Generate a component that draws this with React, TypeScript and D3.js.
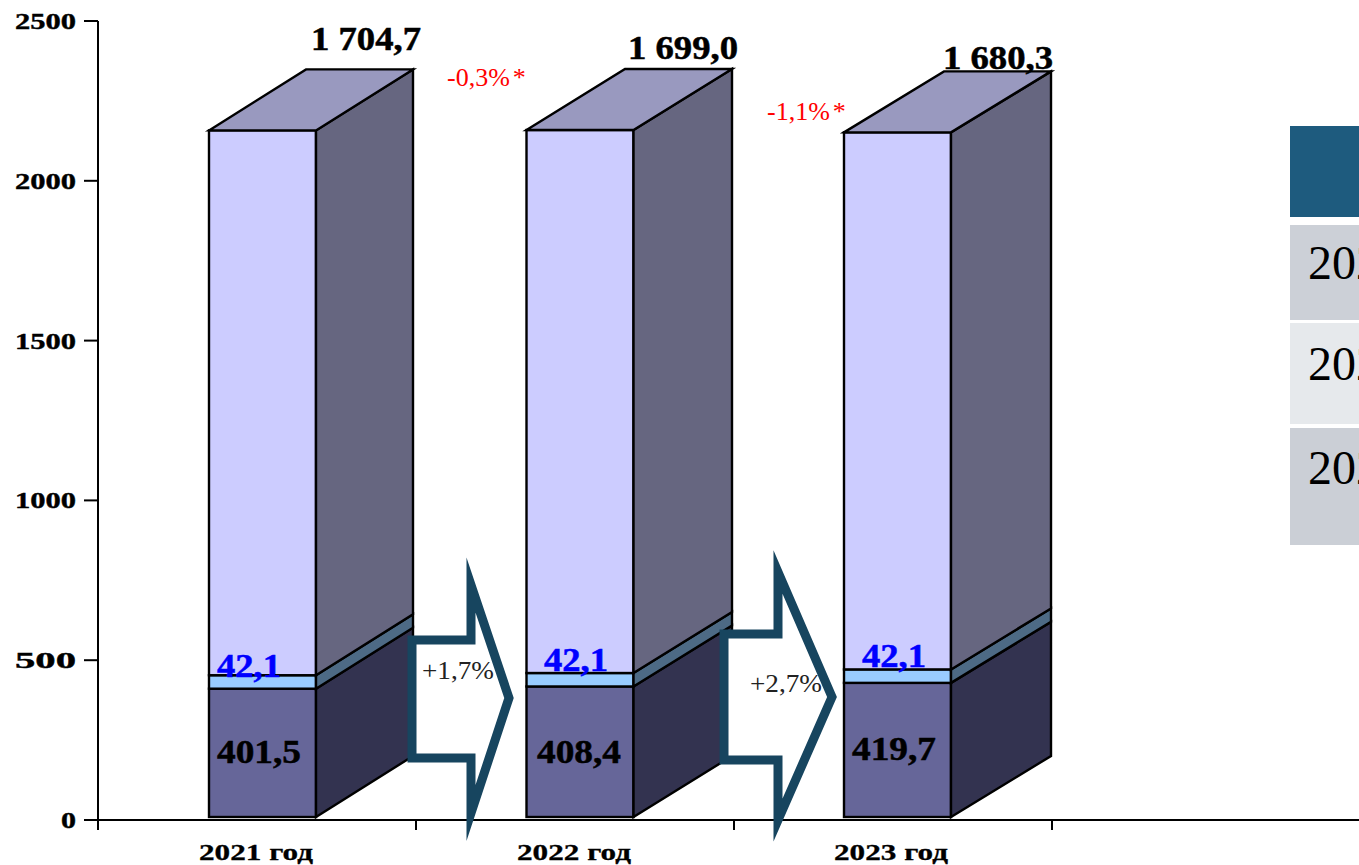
import React from "react";
import * as d3 from "d3";

const categories = ["2021 год", "2022 год", "2023 год"];
const lowerValues = [401.5, 408.4, 419.7];
const middleValues = [42.1, 42.1, 42.1];
const upperValues = [1704.7, 1699.0, 1680.3];
const yTicks = [0, 500, 1000, 1500, 2000, 2500];
const arrowLabels = ["+1,7%", "+2,7%"];
const changeLabels = ["-0,3%", "-1,1%"];
const legendLabels = ["2021", "2022", "2023"];

const W = 1359, H = 865;
const serif = "'Liberation Serif','Times New Roman',serif";
const fmt = d3.formatLocale({ decimal: ",", thousands: " ", grouping: [3], currency: ["", ""] }).format(",.1f");

const yAxis = d3.scaleLinear().domain([0, 2500]).range([820, 21]);
const yBar = d3.scaleLinear().domain([0, 2500]).range([817, 18]);
const xTicks = d3.scalePoint<number>().domain([0, 1, 2, 3]).range([98, 1052]);
const xFront = d3.scalePoint<string>().domain(categories).range([209, 844]);
const xBack = d3.scalePoint<string>().domain(categories).range([413, 1051]);
const barW = 107, depthY = 61;

const pts = (p: number[][]) => p.map((q) => q.join(",")).join(" ");

const segColors = [
  { front: "#666699", side: "#333350" },
  { front: "#99CCFF", side: "#4D6A85" },
  { front: "#CCCCFF", side: "#666680" },
];

const stack = d3.stack<any, number>().keys([0, 1, 2]).value((d, k) => d[k]);
const stacked = stack(categories.map((_, i) => [lowerValues[i], middleValues[i], upperValues[i]]));

const arrows = [
  [[412, 640], [471, 640], [471, 585], [509, 698], [471, 813], [471, 758], [412, 758]],
  [[724, 634], [778, 634], [778, 572], [832, 697], [778, 820], [778, 760], [724, 760]],
];
const arrowLabelPos = [[422, 679], [750, 692]];
const changePos = [[447, 86], [767, 120]];
const totalPos = [[311, 50], [628, 59], [943, 69]];
const lowPos = [[217, 763], [537, 763], [852, 760]];
const midPos = [[217, 677], [544, 671], [862, 667]];
const catPos = [199, 517, 834];

const legendRows = [
  { y0: 126, y1: 217, fill: "#1E5B7E" },
  { y0: 225, y1: 320, fill: "#CCD0D7" },
  { y0: 323, y1: 424, fill: "#E6E9EC" },
  { y0: 428, y1: 545, fill: "#CBCFD6" },
];

export default function App() {
  return (
    <svg width={W} height={H} viewBox={`0 0 ${W} ${H}`}
      style={{ position: "absolute", left: 0, top: 0, display: "block", background: "#fff" }}
      fontFamily={serif}>
      {/* axes */}
      <line x1={98} x2={98} y1={yAxis(2500)} y2={yAxis(0)} stroke="#000" strokeWidth={2} />
      <line x1={84} x2={W} y1={yAxis(0)} y2={yAxis(0)} stroke="#000" strokeWidth={2} />
      {yTicks.map((t) => (
        <g key={t}>
          <line x1={84} x2={98} y1={yAxis(t)} y2={yAxis(t)} stroke="#000" strokeWidth={2} />
          <text x={76} y={yAxis(t) + 8} textAnchor="end" fontWeight="bold" fontSize={23} stroke="#000" strokeWidth={0.4}
            textLength={t === 0 ? 15 : 61} lengthAdjust="spacingAndGlyphs">{t}</text>
        </g>
      ))}
      {xTicks.domain().map((t) => (
        <line key={t} x1={xTicks(t)} x2={xTicks(t)} y1={820} y2={830} stroke="#000" strokeWidth={2} />
      ))}
      {categories.map((c, i) => (
        <text key={c} x={catPos[i]} y={860} fontWeight="bold" fontSize={23} stroke="#000" strokeWidth={0.3}
          textLength={114} lengthAdjust="spacingAndGlyphs">{c}</text>
      ))}

      {/* bars */}
      {categories.map((c, i) => {
        const x0 = xFront(c)!, x1 = x0 + barW, x2 = xBack(c)!;
        const topY = yBar(stacked[2][i][1]);
        return (
          <g key={c} stroke="#000" strokeWidth={2.4} strokeLinejoin="miter">
            {stacked.map((s, k) => {
              const yb = yBar(s[i][0]), yt = yBar(s[i][1]);
              return (
                <g key={k}>
                  <rect x={x0} y={yt} width={barW} height={yb - yt} fill={segColors[k].front} />
                  <polygon points={pts([[x1, yb], [x2, yb - depthY], [x2, yt - depthY], [x1, yt]])} fill={segColors[k].side} />
                </g>
              );
            })}
            <polygon points={pts([[x0, topY], [x0 + (x2 - x1), topY - depthY], [x2, topY - depthY], [x1, topY]])} fill="#9999BF" />
          </g>
        );
      })}

      {/* value labels */}
      {categories.map((c, i) => (
        <g key={c} fontWeight="bold" fontSize={33}>
          <text x={totalPos[i][0]} y={totalPos[i][1]} stroke="#000" strokeWidth={0.5} textLength={110} lengthAdjust="spacingAndGlyphs">{fmt(upperValues[i]).replace(/\u00a0/g, " ")}</text>
          <text x={lowPos[i][0]} y={lowPos[i][1]} stroke="#000" strokeWidth={0.5} textLength={84} lengthAdjust="spacingAndGlyphs">{fmt(lowerValues[i])}</text>
          <text x={midPos[i][0]} y={midPos[i][1]} fill="#0000FF" stroke="#0000FF" strokeWidth={0.5} textLength={64} lengthAdjust="spacingAndGlyphs">{fmt(middleValues[i])}</text>
        </g>
      ))}

      {/* arrows */}
      {arrows.map((a, i) => (
        <g key={i}>
          <polygon points={pts(a)} fill="#fff" stroke="#17455F" strokeWidth={9} strokeMiterlimit={10} />
          <text x={arrowLabelPos[i][0]} y={arrowLabelPos[i][1]} fontSize={25} fill="#222"
            textLength={72} lengthAdjust="spacingAndGlyphs">{arrowLabels[i]}</text>
        </g>
      ))}
      {changeLabels.map((t, i) => (
        <text key={t} x={changePos[i][0]} y={changePos[i][1]} fontSize={26} fill="#FF0000">
          {t}<tspan dx={3}>*</tspan>
        </text>
      ))}

      {/* table cut off at the right edge */}
      {legendRows.map((r) => (
        <rect key={r.y0} x={1290} y={r.y0} width={W - 1290} height={r.y1 - r.y0} fill={r.fill} />
      ))}
      {legendLabels.map((t, i) => (
        <text key={t} x={1308} y={[279, 380, 484][i]} fontSize={48} fill="#000"
          textLength={96} lengthAdjust="spacing">{t}</text>
      ))}
    </svg>
  );
}
